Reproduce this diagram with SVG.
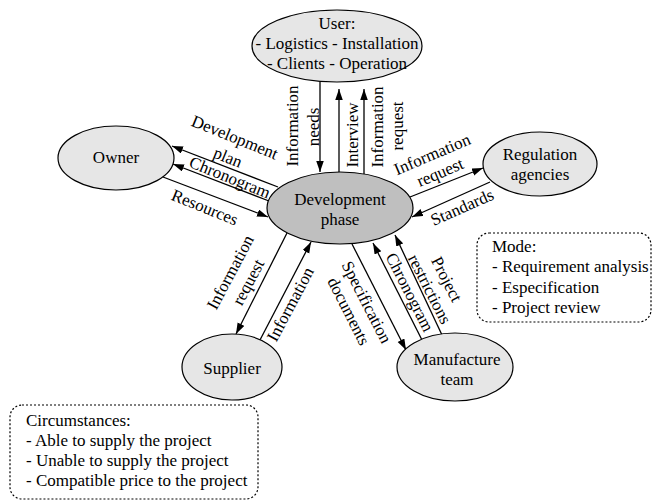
<svg xmlns="http://www.w3.org/2000/svg" width="655" height="502" viewBox="0 0 655 502">
  <defs>
    <marker id="ah" markerUnits="userSpaceOnUse" markerWidth="12" markerHeight="8" refX="11" refY="3.75" orient="auto">
      <path d="M0,0 L11,3.75 L0,7.5 z" fill="#000"/>
    </marker>
    <style>
      text { font-family: "Liberation Serif", "Times New Roman", serif; font-size: 17px; fill: #000; }
      .c { text-anchor: middle; }
      .node ellipse { fill: #e6e6e6; stroke: #000; stroke-width: 1.2; }
      #dev ellipse { fill: #bfbfbf; }
      .edge line { stroke: #000; stroke-width: 1.3; marker-end: url(#ah); }
      .box { fill: none; stroke: #000; stroke-width: 1.2; stroke-dasharray: 2 2; }
    </style>
  </defs>
  <rect width="655" height="502" fill="#fff"/>

  <!-- connectors -->
  <g id="connectors">
    <!-- user <-> development phase -->
    <g class="edge" id="e-info-needs">
      <line x1="320" y1="82" x2="320" y2="172"/>
      <text class="c" transform="translate(292,126) rotate(-90)" y="6">Information</text>
      <text class="c" transform="translate(313,127) rotate(-90)" y="6">needs</text>
    </g>
    <g class="edge" id="e-interview">
      <line x1="339" y1="172" x2="339" y2="89"/>
      <text class="c" transform="translate(352,135) rotate(-90)" y="6">Interview</text>
    </g>
    <g class="edge" id="e-user-info-request">
      <line x1="364" y1="174" x2="364" y2="89"/>
      <text class="c" transform="translate(377,127) rotate(-90)" y="6">Information</text>
      <text class="c" transform="translate(397,126) rotate(-90)" y="6">request</text>
    </g>

    <!-- owner -->
    <g class="edge" id="e-dev-plan">
      <line x1="278" y1="187" x2="172" y2="146"/>
      <text class="c" transform="translate(235,137) rotate(22)" y="6">Development</text>
      <text class="c" transform="translate(228,157) rotate(22)" y="6">plan</text>
    </g>
    <g class="edge" id="e-owner-chronogram">
      <line x1="269" y1="201" x2="173" y2="164"/>
      <text class="c" transform="translate(230,177) rotate(22)" y="6">Chronogram</text>
    </g>
    <g class="edge" id="e-resources">
      <line x1="163" y1="177" x2="268" y2="217"/>
      <text class="c" transform="translate(205,207) rotate(22)" y="6">Resources</text>
    </g>

    <!-- regulation agencies -->
    <g class="edge" id="e-reg-info-request">
      <line x1="410" y1="197" x2="483" y2="168"/>
      <text class="c" transform="translate(432,154) rotate(-23)" y="6">Information</text>
      <text class="c" transform="translate(440,172) rotate(-23)" y="6">request</text>
    </g>
    <g class="edge" id="e-standards">
      <line x1="490" y1="182" x2="412" y2="217"/>
      <text class="c" transform="translate(462,207) rotate(-24)" y="6">Standards</text>
    </g>

    <!-- supplier -->
    <g class="edge" id="e-sup-info-request">
      <line x1="287" y1="233" x2="236" y2="334"/>
      <text class="c" transform="translate(230,272) rotate(-62)" y="6">Information</text>
      <text class="c" transform="translate(248,282) rotate(-62)" y="6">request</text>
    </g>
    <g class="edge" id="e-sup-information">
      <line x1="260" y1="340" x2="311" y2="242"/>
      <text class="c" transform="translate(290,304) rotate(-62)" y="6">Information</text>
    </g>

    <!-- manufacture team -->
    <g class="edge" id="e-spec-docs">
      <line x1="352" y1="244" x2="406" y2="350"/>
      <text class="c" transform="translate(367,302) rotate(63)" y="6">Specification</text>
      <text class="c" transform="translate(349,311) rotate(63)" y="6">documents</text>
    </g>
    <g class="edge" id="e-man-chronogram">
      <line x1="422" y1="340" x2="373" y2="243"/>
      <text class="c" transform="translate(410,292) rotate(63)" y="6">Chronogram</text>
    </g>
    <g class="edge" id="e-restrictions">
      <line x1="442" y1="335" x2="395" y2="235"/>
      <text class="c" transform="translate(447,279) rotate(63)" y="6">Project</text>
      <text class="c" transform="translate(430,289) rotate(63)" y="6">restrictions</text>
    </g>
  </g>

  <!-- nodes -->
  <g id="user" class="node">
    <ellipse cx="337" cy="46" rx="85" ry="36"/>
    <text class="c" x="337" y="29">User:</text>
    <text class="c" x="337" y="49">- Logistics - Installation</text>
    <text class="c" x="337" y="69">- Clients - Operation</text>
  </g>
  <g id="owner" class="node">
    <ellipse cx="116" cy="158" rx="58" ry="32"/>
    <text class="c" x="116" y="163">Owner</text>
  </g>
  <g id="dev" class="node">
    <ellipse cx="340" cy="208" rx="73" ry="36"/>
    <text class="c" x="340" y="205">Development</text>
    <text class="c" x="340" y="225">phase</text>
  </g>
  <g id="regulation" class="node">
    <ellipse cx="540" cy="164" rx="57" ry="32"/>
    <text class="c" x="540" y="160">Regulation</text>
    <text class="c" x="540" y="180">agencies</text>
  </g>
  <g id="supplier" class="node">
    <ellipse cx="232" cy="367" rx="50" ry="33"/>
    <text class="c" x="232" y="374">Supplier</text>
  </g>
  <g id="manufacture" class="node">
    <ellipse cx="455" cy="367" rx="58" ry="34"/>
    <text class="c" x="457" y="365">Manufacture</text>
    <text class="c" x="457" y="385">team</text>
  </g>

  <!-- annotation boxes -->
  <g id="mode">
    <rect class="box" x="477" y="233" width="174" height="89" rx="12"/>
    <text x="492" y="252">Mode:</text>
    <text x="492" y="272">- Requirement analysis</text>
    <text x="492" y="293">- Especification</text>
    <text x="492" y="313">- Project review</text>
  </g>
  <g id="circumstances">
    <rect class="box" x="10" y="405" width="248" height="94" rx="12"/>
    <text x="26" y="426">Circumstances:</text>
    <text x="26" y="446">- Able to supply the project</text>
    <text x="26" y="466">- Unable to supply the project</text>
    <text x="26" y="486">- Compatible price to the project</text>
  </g>
</svg>
